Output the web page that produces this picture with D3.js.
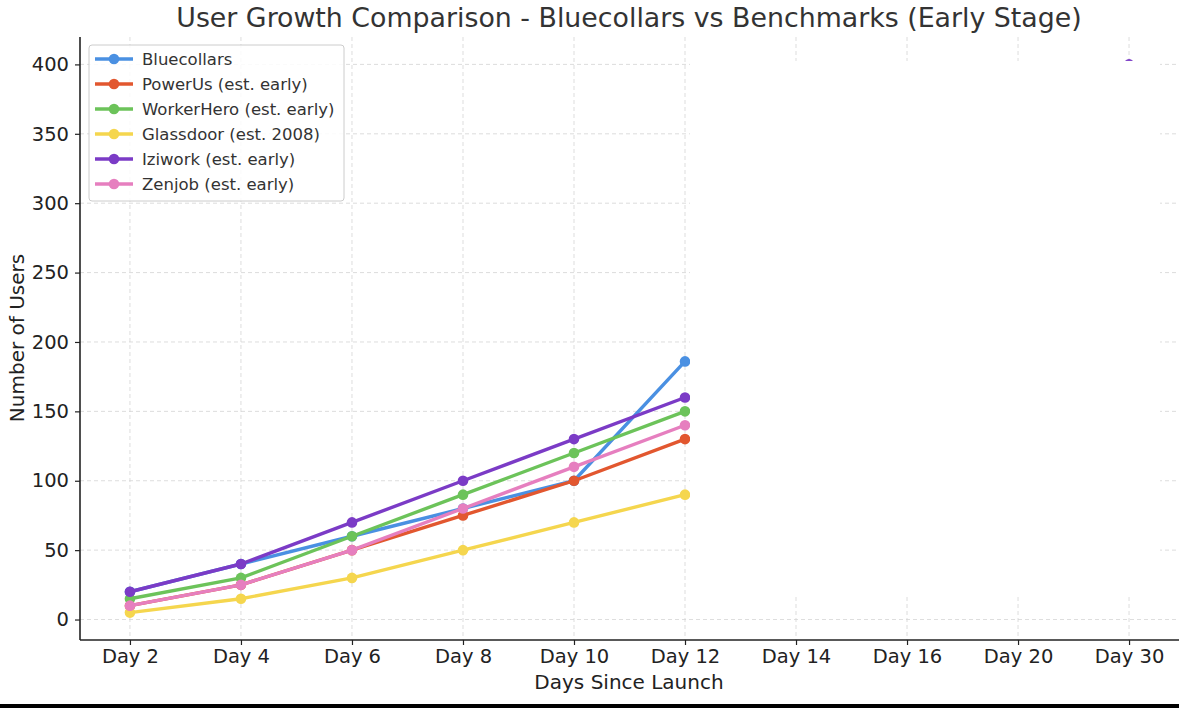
<!DOCTYPE html>
<html>
<head>
<meta charset="utf-8">
<script src="https://cdn.jsdelivr.net/npm/d3@7"></script>
<style>
  body { margin: 0; background: #fff; }
  svg { display: block; font-family: "DejaVu Sans", sans-serif; }
</style>
</head>
<body>
<div id="chart"></div>
<script>
// days on the x axis (categorical)
var days = ["Day 2", "Day 4", "Day 6", "Day 8", "Day 10", "Day 12", "Day 14", "Day 16", "Day 20", "Day 30"];
var yTicks = [0, 50, 100, 150, 200, 250, 300, 350, 400];

// series values, null where nothing shows
var bluecollars = [20, 40, 60, 80, 100, 186, null, null, null, null];
var powerUs     = [10, 25, 50, 75, 100, 130, null, null, null, null];
var workerHero  = [15, 30, 60, 90, 120, 150, null, null, null, null];
var glassdoor   = [5, 15, 30, 50, 70, 90, null, null, null, null];
var iziwork     = [20, 40, 70, 100, 130, 160, null, null, null, 400];
var zenjob      = [10, 25, 50, 80, 110, 140, null, null, null, null];

var seriesNames = ["Bluecollars", "PowerUs (est. early)", "WorkerHero (est. early)",
                   "Glassdoor (est. 2008)", "Iziwork (est. early)", "Zenjob (est. early)"];
var seriesValues = [bluecollars, powerUs, workerHero, glassdoor, iziwork, zenjob];
var colors = ["#4a90e2", "#e2572f", "#6cc35a", "#f5d64e", "#7b3bc6", "#e67fbf"];

var W = 1179, H = 708;
var plotLeft = 80, plotRight = 1179, plotTop = 37, plotBottom = 640;
var FONT = "DejaVu Sans";

var svg = d3.select("#chart").append("svg").attr("width", W).attr("height", H);

var x = d3.scalePoint().domain(days).range([plotLeft, plotRight]).padding(0.45);
var y = d3.scaleLinear().domain([-14.75, 419.75]).range([plotBottom, plotTop]);

//gridlines
var grid = svg.append("g");
grid.selectAll(".vg").data(days).enter().append("line")
  .attr("x1", d => x(d)).attr("x2", d => x(d))
  .attr("y1", plotTop).attr("y2", plotBottom)
  .attr("stroke", "#d4d4d4").attr("stroke-width", 0.8).attr("stroke-dasharray", "4,3");
grid.selectAll(".hg").data(yTicks).enter().append("line")
  .attr("x1", plotLeft).attr("x2", plotRight)
  .attr("y1", d => y(d)).attr("y2", d => y(d))
  .attr("stroke", "#d4d4d4").attr("stroke-width", 0.8).attr("stroke-dasharray", "4,3");

//lines + markers
var line = d3.line()
  .defined(d => d != null)
  .x((d, i) => x(days[i]))
  .y(d => y(d));

seriesValues.forEach(function (vals, k) {
  svg.append("path")
    .attr("d", line(vals))
    .attr("fill", "none")
    .attr("stroke", colors[k])
    .attr("stroke-width", 3.4)
    .attr("stroke-linejoin", "round");
  svg.selectAll(".m" + k)
    .data(vals.map((v, i) => ({ v: v, day: days[i] })).filter(d => d.v != null))
    .enter().append("circle")
    .attr("cx", d => x(d.day))
    .attr("cy", d => y(d.v))
    .attr("r", 5.3)
    .attr("fill", colors[k]);
});

// the blank panel that hides the right part of the plot in the picture
svg.append("rect")
  .attr("x", x("Day 12") + 5)
  .attr("y", y(402.5))
  .attr("width", (x("Day 30") + 31) - (x("Day 12") + 5))
  .attr("height", y(18) - y(402.5))
  .attr("fill", "#fff");

//axes
var xAxis = svg.append("g")
  .attr("transform", "translate(0," + plotBottom + ")")
  .call(d3.axisBottom(x).tickSize(5).tickPadding(4))
  .attr("font-family", FONT);
xAxis.select(".domain").attr("d", "M" + plotLeft + ",0H" + plotRight).attr("stroke", "#222").attr("stroke-width", 1.6);
xAxis.selectAll(".tick line").attr("stroke", "#222").attr("stroke-width", 1.2);
xAxis.selectAll("text").attr("font-size", "19.5px").attr("fill", "#222");

var yAxis = svg.append("g")
  .attr("transform", "translate(" + plotLeft + ",0)")
  .call(d3.axisLeft(y).tickValues(yTicks).tickSize(5).tickPadding(6))
  .attr("font-family", FONT);
yAxis.select(".domain").attr("d", "M0," + plotTop + "V" + plotBottom).attr("stroke", "#222").attr("stroke-width", 1.6);
yAxis.selectAll(".tick line").attr("stroke", "#222").attr("stroke-width", 1.2);
yAxis.selectAll("text").attr("font-size", "19.5px").attr("fill", "#222");

//titles
svg.append("text")
  .attr("x", 629)
  .attr("y", 27)
  .attr("text-anchor", "middle")
  .attr("font-size", "26.8px")
  .attr("fill", "#333")
  .text("User Growth Comparison - Bluecollars vs Benchmarks (Early Stage)");

svg.append("text")
  .attr("x", 629)
  .attr("y", 689)
  .attr("text-anchor", "middle")
  .attr("font-size", "20px")
  .attr("fill", "#222")
  .text("Days Since Launch");

svg.append("text")
  .attr("transform", "translate(24,338) rotate(-90)")
  .attr("text-anchor", "middle")
  .attr("font-size", "20px")
  .attr("fill", "#222")
  .text("Number of Users");

//legend
var lg = svg.append("g").attr("transform", "translate(89,45)");
lg.append("rect")
  .attr("width", 255).attr("height", 156)
  .attr("rx", 3)
  .attr("fill", "#fff").attr("fill-opacity", 0.85)
  .attr("stroke", "#cccccc").attr("stroke-width", 1);
seriesNames.forEach(function (name, k) {
  var row = lg.append("g").attr("transform", "translate(0," + (14 + k * 25) + ")");
  row.append("line").attr("x1", 6).attr("x2", 44).attr("stroke", colors[k]).attr("stroke-width", 3.4);
  row.append("circle").attr("cx", 25).attr("r", 5.3).attr("fill", colors[k]);
  row.append("text").attr("x", 53).attr("dy", "0.36em")
    .attr("font-size", "16.5px").attr("fill", "#333").text(name);
});

// black band at the very bottom of the picture
svg.append("rect").attr("x", 0).attr("y", 704).attr("width", W).attr("height", 4).attr("fill", "#000");
</script>
</body>
</html>
